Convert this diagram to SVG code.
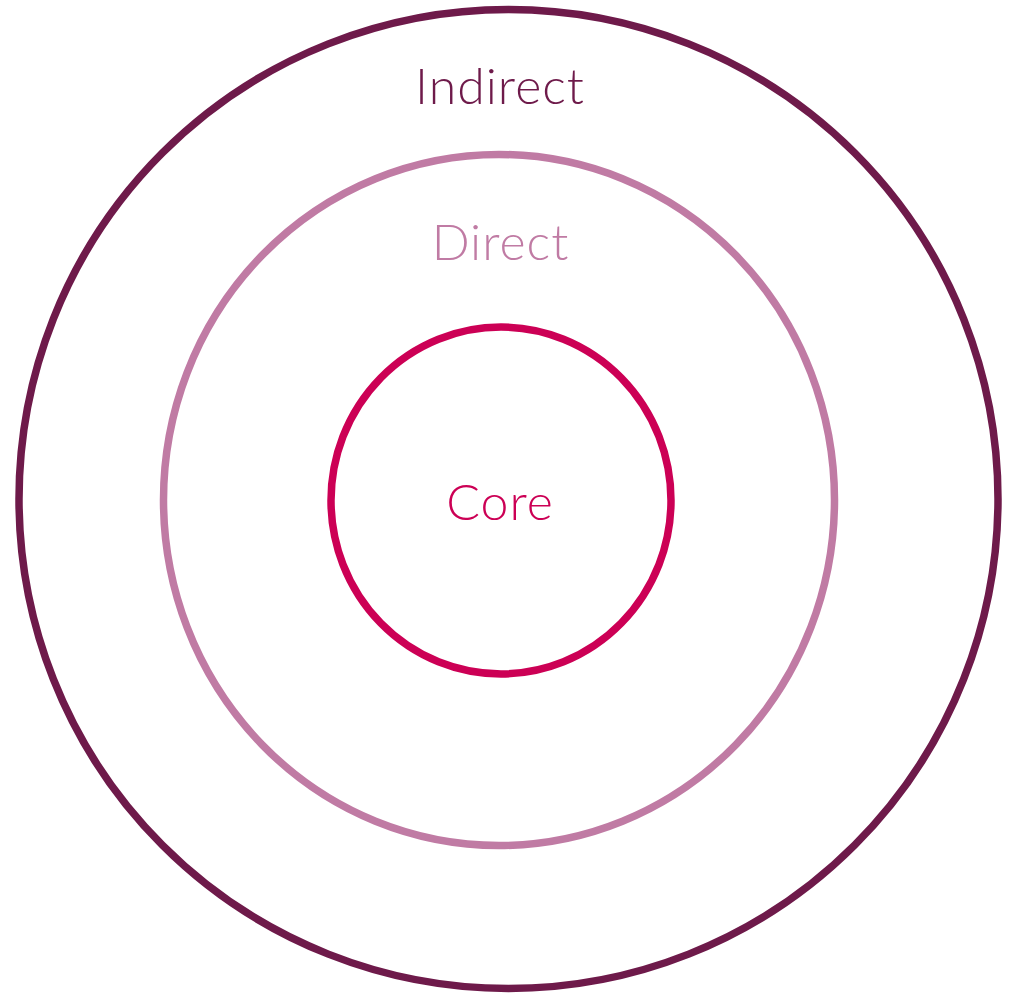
<svg xmlns="http://www.w3.org/2000/svg" width="1015" height="994" viewBox="0 0 1015 994">
<style>
.ring{fill:none;stroke-width:7.5}
.lbl{font-family:Lato,"Open Sans","Liberation Sans",sans-serif;font-weight:300;font-size:50px;letter-spacing:1px;text-anchor:middle}
</style>
<rect width="1015" height="994" fill="#ffffff"/>
<g id="indirect">
<circle class="ring" cx="508.5" cy="499" r="489.5" stroke="#6E1A4A"/>
<text class="lbl" x="500" y="104" fill="#6E1A4A">Indirect</text>
</g>
<g id="direct">
<ellipse class="ring" cx="499" cy="500" rx="335.5" ry="345.5" stroke="#C07BA4"/>
<text class="lbl" x="500.5" y="260" fill="#C07BA4">Direct</text>
</g>
<g id="core">
<ellipse class="ring" cx="501" cy="500.5" rx="170" ry="173.5" stroke="#CC0055"/>
<text class="lbl" x="500" y="520" fill="#CC0055">Core</text>
</g>
<g id="connectors"></g>
</svg>
